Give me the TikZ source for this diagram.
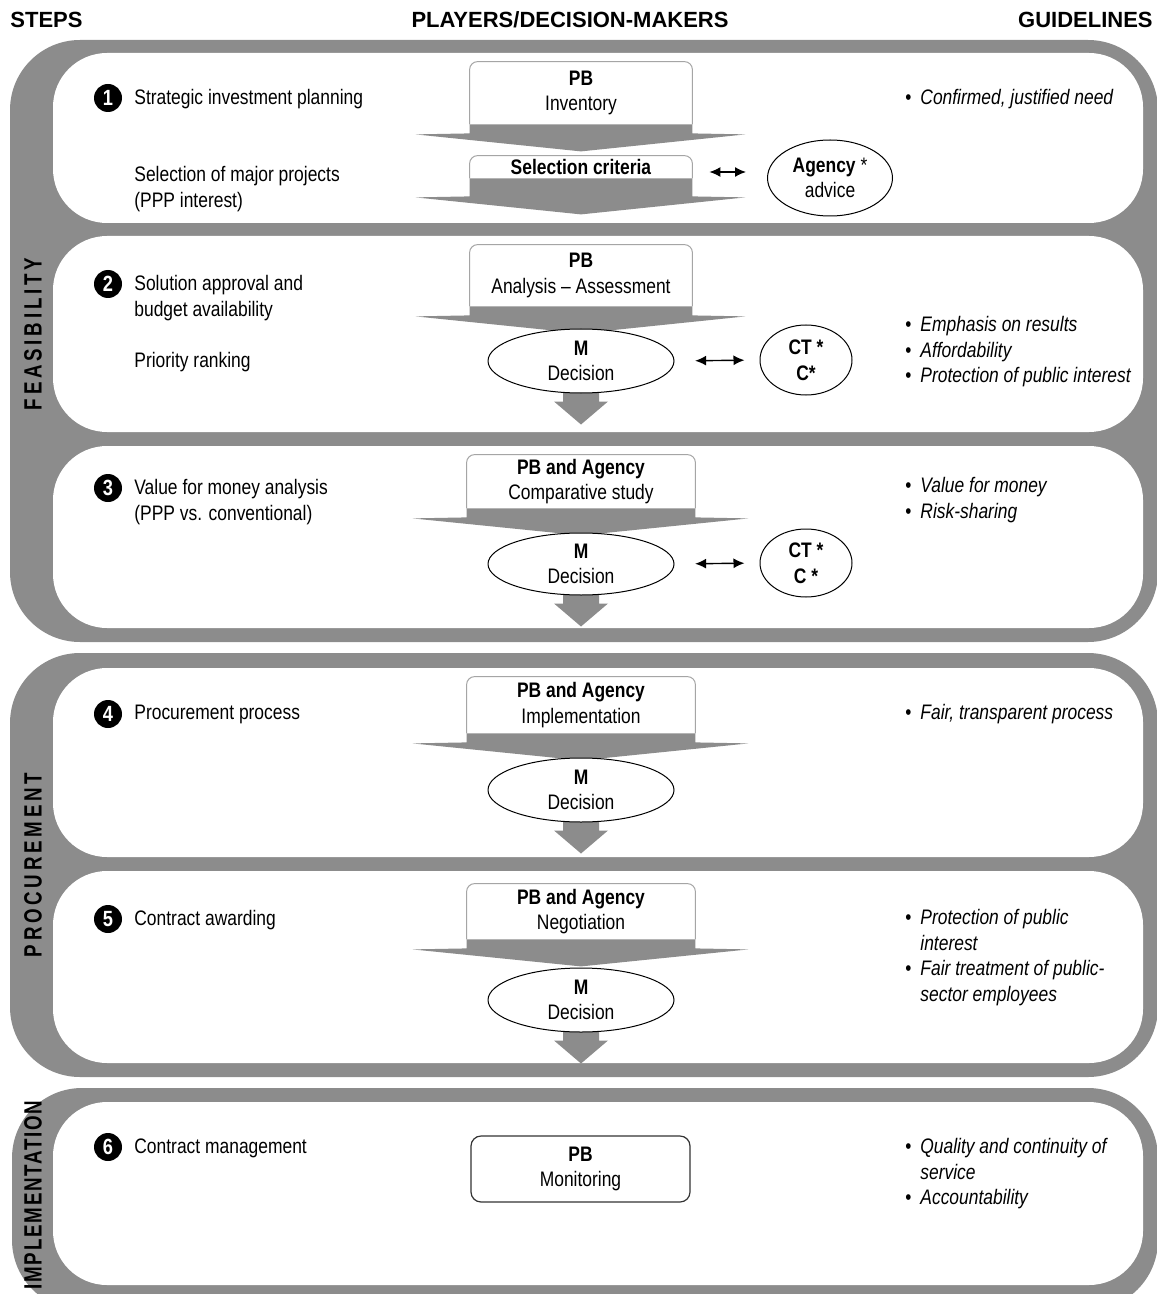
\documentclass[tikz,border=0pt]{standalone}
\usepackage{fontspec}
\setmainfont{Liberation Sans}[FakeStretch=0.83]
\newfontfamily\kopffont{Liberation Sans}
\newfontfamily\seitenfont{Liberation Sans}[FakeStretch=0.75, LetterSpace=15]
\usepackage{tikz}
\usetikzlibrary{shapes.geometric, calc, arrows.meta}

\definecolor{rahmengrau}{RGB}{140,140,140}
\definecolor{kastenrand}{RGB}{165,165,165}

\pgfdeclarelayer{hinten}
\pgfdeclarelayer{mitte}
\pgfsetlayers{hinten,mitte,main}

\AtBeginDocument{\fontsize{10.5pt}{12.8pt}\selectfont}

\newcommand\punkt{\makebox[7.5pt][l]{\upshape\textbullet}}
\newcommand\einzug{\hspace*{7.5pt}}

% Keil unter einem Kasten: #1 Knoten, #2 Hoehe des grauen Bandes (px)
\newcommand\keil[2]{%
  \fill[rahmengrau] (#1.south west) -- (#1.south east)
    -- ($(#1.south east)+(0,#2)$) -- ($(#1.south east)+(53,#2+1)$)
    -- ($(#1.south)+(0,#2+18)$) -- ($(#1.south west)+(-54,#2+1)$)
    -- ($(#1.south west)+(0,#2)$) -- cycle;}

% Blockpfeil unter einer Ellipse
\newcommand\blockpfeil[1]{%
  \fill[rahmengrau] ($(#1.south)+(-18,-8)$) -- ($(#1.south)+(18,-8)$)
    -- ($(#1.south)+(18,8)$) -- ($(#1.south)+(27,8)$)
    -- ($(#1.south)+(0,31)$) -- ($(#1.south)+(-27,8)$)
    -- ($(#1.south)+(-18,8)$) -- cycle;}

\begin{document}
\begin{tikzpicture}[
      x=0.5pt, y=-0.5pt,
      kasten/.style={minimum width=111pt, inner sep=0pt, align=center},
      kastenlinie/.style={draw=kastenrand, line width=0.5pt, rounded corners=4pt},
      entscheidung/.style={ellipse, draw, fill=white, line width=0.5pt, inner sep=0pt,
                           minimum width=93pt, minimum height=32pt, align=center},
      berater/.style={ellipse, draw, fill=white, line width=0.5pt, inner sep=0pt, align=center},
      schritt/.style={anchor=north west, align=left, inner sep=0pt},
      leitlinie/.style={anchor=north west, align=left, inner sep=0pt, font=\itshape},
      nummer/.style={circle, fill=black, text=white, font=\bfseries\fontsize{11pt}{12pt}\selectfont,
                     minimum size=14pt, inner sep=0pt},
      kopf/.style={font=\kopffont\bfseries\fontsize{11pt}{13pt}\selectfont, inner sep=0pt},
      seite/.style={rotate=90, font=\seitenfont\bfseries\fontsize{12.5pt}{13pt}\selectfont, inner sep=0pt},
      doppelpfeil/.style={{Latex[length=5.5pt, width=5pt]}-{Latex[length=5.5pt, width=5pt]}, line width=0.7pt}
    ]
    \useasboundingbox (0,0) rectangle (1156,1294);

    % ---------- Rahmen und Felder ----------
    \begin{pgfonlayer}{hinten}
      \fill[rahmengrau, rounded corners=35pt] (10,40)   rectangle (1158,642);
      \fill[rahmengrau, rounded corners=35pt] (10,653)  rectangle (1158,1077);
      \fill[rahmengrau, rounded corners=35pt] (12,1088) rectangle (1158,1310);
      \foreach \o/\u in {53/223, 236/432, 446/628, 668/857, 871/1063, 1102/1285}{
        \fill[white, rounded corners=27pt] (53,\o) rectangle (1143,\u);
      }
    \end{pgfonlayer}

    % ---------- Kopfzeile ----------
    \node[kopf, anchor=base west] (steps) at (10,28) {STEPS};
    \node[kopf, anchor=base] (akteure) at (570,28) {PLAYERS/DECISION-MAKERS};
    \node[kopf, anchor=base east] (leitlinien) at (1153,28) {GUIDELINES};

    % ---------- Phasen ----------
    \node[seite] (machbarkeit) at (33,334) {FEASIBILITY};
    \node[seite] (vergabe) at (33,865) {PROCUREMENT};
    \node[seite] (umsetzungsphase) at (33,1195) {\addfontfeatures{LetterSpace=7}IMPLEMENTATION};

    % ---------- Feld 1 ----------
    \node[nummer] (n1) at (108,98) {1};
    \node[schritt] (s1a) at (134,89) {Strategic investment planning};
    \node[schritt] (s1b) at (134,166) {Selection of major projects\\(PPP interest)};
    \node[kasten, minimum height=31pt] (inventar) at (581,93) {\textbf{PB}\\Inventory};
    \node[kasten, minimum height=11pt] (kriterien) at (581,167) {\textbf{Selection criteria}};
    \node[berater, minimum width=62.5pt, minimum height=38pt] (agentur) at (830,178)
      {\textbf{Agency} *\\advice};
    \node[leitlinie] (g1) at (905,89) {\punkt Confirmed, justified need};

    % ---------- Feld 2 ----------
    \node[nummer] (n2) at (108,284) {2};
    \node[schritt] (s2a) at (134,275) {Solution approval and\\budget availability};
    \node[schritt] (s2b) at (134,352) {Priority ranking};
    \node[kasten, minimum height=30.5pt] (analyse) at (581,275.5) {\textbf{PB}\\Analysis -- Assessment};
    \node[entscheidung] (m2) at (581,361) {\textbf{M}\\Decision};
    \node[berater, minimum width=46pt, minimum height=35pt] (ct2) at (806,360)
      {\textbf{CT *}\\\textbf{C*}};
    \node[leitlinie] (g2) at (905,316)
      {\punkt Emphasis on results\\\punkt Affordability\\\punkt Protection of public interest};

    % ---------- Feld 3 ----------
    \node[nummer] (n3) at (108,488) {3};
    \node[schritt] (s3) at (134,479) {Value for money analysis\\(PPP vs. conventional)};
    \node[kasten, minimum width=114pt, minimum height=26.5pt] (vergleich) at (581,481.5)
      {\textbf{PB and Agency}\\Comparative study};
    \node[entscheidung, minimum height=31pt] (m3) at (581,564) {\textbf{M}\\Decision};
    \node[berater, minimum width=46pt, minimum height=34pt] (ct3) at (806,563)
      {\textbf{CT *}\\\textbf{C *}};
    \node[leitlinie] (g3) at (905,477) {\punkt Value for money\\\punkt Risk-sharing};

    % ---------- Feld 4 ----------
    \node[nummer] (n4) at (108,714) {4};
    \node[schritt] (s4) at (134,705) {Procurement process};
    \node[kasten, minimum width=114pt, minimum height=28pt] (umsetzung) at (581,705)
      {\textbf{PB and Agency}\\Implementation};
    \node[entscheidung] (m4) at (581,790) {\textbf{M}\\Decision};
    \node[leitlinie] (g4) at (905,704) {\punkt Fair, transparent process};

    % ---------- Feld 5 ----------
    \node[nummer] (n5) at (108,919) {5};
    \node[schritt] (s5) at (134,910) {Contract awarding};
    \node[kasten, minimum width=114pt, minimum height=27.5pt] (verhandlung) at (581,911.5)
      {\textbf{PB and Agency}\\Negotiation};
    \node[entscheidung] (m5) at (581,1000) {\textbf{M}\\Decision};
    \node[leitlinie] (g5) at (905,909)
      {\punkt Protection of public\\\einzug interest\\\punkt Fair treatment of public-\\\einzug sector employees};

    % ---------- Feld 6 ----------
    \node[nummer] (n6) at (108,1147) {6};
    \node[schritt] (s6) at (134,1138) {Contract management};
    \node[kasten, minimum width=109.5pt, minimum height=33pt, draw=black!80, line width=0.6pt,
          rounded corners=5pt] (monitoring) at (580.5,1169) {\textbf{PB}\\Monitoring};
    \node[leitlinie] (g6) at (905,1138)
      {\punkt Quality and continuity of\\\einzug service\\\punkt Accountability};

    % Kastenraender (oben gerundet, unten offen)
    \foreach \k in {inventar, kriterien, analyse, vergleich, umsetzung, verhandlung}{
      \draw[kastenlinie] (\k.south west) -- (\k.north west) -- (\k.north east) -- (\k.south east);
    }

    % graue Keile und Pfeile
    \begin{pgfonlayer}{mitte}
      \keil{inventar}{9}
      \keil{kriterien}{18}
      \foreach \k in {analyse, vergleich, umsetzung, verhandlung}{
        \keil{\k}{9}
      }
      \foreach \e in {m2, m3, m4, m5}{
        \blockpfeil{\e}
      }
    \end{pgfonlayer}

    % Doppelpfeile
    \coordinate (kpfeil) at ([yshift=-2.5pt]kriterien.east);
    \draw[doppelpfeil, shorten <=8.5pt, shorten >=10.5pt] (kpfeil) -- (kpfeil -| agentur.west);
    \draw[doppelpfeil, shorten <=10.3pt, shorten >=7.5pt] (m2.east) -- (ct2.west);
    \draw[doppelpfeil, shorten <=10.3pt, shorten >=7.5pt] (m3.east) -- (ct3.west);
  \end{tikzpicture}
\end{document}
